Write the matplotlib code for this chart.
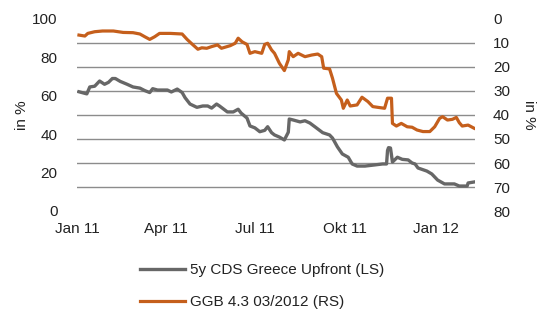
import numpy as np
import matplotlib
matplotlib.use("Agg")
import matplotlib.pyplot as plt

plt.rcParams['font.family'] = ['Liberation Sans', 'DejaVu Sans']

# Days since 2011-01-01 and values for each series
cds_days = [2, 10, 13, 18, 23, 28, 32, 36, 39, 44, 51, 57, 64, 69, 74, 77, 82, 92, 96,
            102, 107, 110, 115, 122, 128, 133, 137, 142, 145, 153, 159, 164, 167, 173,
            176, 181, 186, 191, 194, 198, 201, 206, 211, 215, 216, 220, 227, 232, 237,
            242, 250, 257, 260, 265, 270, 276, 280, 285, 293, 303, 311, 315, 316, 317,
            319, 321, 326, 331, 337, 341, 344, 347, 356, 361, 367, 374, 384, 389, 397,
            398, 404]
cds_values = [62.1, 61, 64.6, 65, 67.7, 66, 67, 69, 69, 67.5, 66, 64.6, 64, 62.7, 61.7,
              63.7, 63, 63, 62, 63.5, 61.7, 59, 55.7, 54, 54.7, 54.7, 53.6, 55.7, 54.7,
              51.6, 51.6, 53, 51, 48.4, 44.3, 43.3, 41.3, 42, 43.9, 40.8, 39.6, 38.5, 37,
              41, 47.9, 47.4, 46.4, 47, 45.8, 43.9, 40.8, 39.6, 38, 33.4, 29.7, 28, 24.5,
              23.4, 23.4, 24, 24.5, 24.5, 31.5, 33, 32.8, 25.5, 28, 26.9, 26.6, 25, 24.5,
              22.4, 20.8, 19.3, 16.1, 14.1, 14.1, 13, 13, 14.6, 15.1]

ggb_days = [2, 8, 11, 18, 26, 37, 47, 57, 64, 69, 74, 79, 84, 95, 107, 112, 117, 123,
            127, 132, 137, 143, 147, 156, 161, 164, 168, 173, 176, 181, 188, 191, 194,
            198, 201, 206, 211, 215, 216, 220, 225, 232, 239, 245, 249, 251, 257, 260,
            264, 269, 271, 275, 278, 285, 290, 296, 301, 306, 313, 316, 320, 321, 325,
            330, 336, 341, 346, 352, 359, 364, 369, 372, 377, 382, 386, 389, 392, 398,
            404]
ggb_values = [6.7, 7.1, 6.0, 5.3, 5.0, 5.0, 5.6, 5.7, 6.25, 7.4, 8.5, 7.4, 6.0, 6.0,
              6.25, 8.5, 10.4, 12.6, 12.0, 12.2, 11.5, 10.8, 12.2, 11.1, 10.1, 8.0, 9.5,
              10.6, 14.3, 13.6, 14.3, 10.6, 10.1, 12.9, 14.3, 18.5, 21.5, 17, 13.6, 15.7,
              14.3, 15.7, 15.0, 14.6, 15.7, 20.5, 20.8, 24.7, 31.0, 33.75, 37.2, 33.75,
              36.25, 35.8, 32.6, 34.4, 36.5, 36.8, 37.2, 33.0, 33.0, 43.5, 44.6, 43.5,
              44.9, 45.1, 46.25, 46.9, 46.9, 44.9, 41.4, 40.7, 42.1, 41.8, 41.0, 43.2,
              44.6, 44.2, 45.5]

tick_dates = ["2011-01-01", "2011-04-01", "2011-07-01", "2011-10-01", "2012-01-01"]
tick_labels = ["Jan 11", "Apr 11", "Jul 11", "Okt 11", "Jan 12"]
left_ticks = [0, 20, 40, 60, 80, 100]
right_ticks = [0, 10, 20, 30, 40, 50, 60, 70, 80]

series_names = ["5y CDS Greece Upfront (LS)", "GGB 4.3 03/2012 (RS)"]

base = np.datetime64("2011-01-01")
cds_x = base + np.array(cds_days).astype("timedelta64[D]")
ggb_x = base + np.array(ggb_days).astype("timedelta64[D]")

GRAY = "#676767"
ORANGE = "#C55F1C"
TEXT = "#222222"
FS = 11

fig = plt.figure(figsize=(5.5, 3.27), dpi=100)
W, H = 550, 327
ax1 = fig.add_axes([77 / W, 1 - 211 / H, (475 - 77) / W, (211 - 19) / H])
ax2 = ax1.twinx()

ax1.plot(cds_x, cds_values, color=GRAY, lw=2.4, solid_joinstyle="round",
         label=series_names[0])
ax2.plot(ggb_x, ggb_values, color=ORANGE, lw=2.3, solid_joinstyle="round",
         label=series_names[1])

ax1.set_xlim(base, base + np.timedelta64(405, "D"))
ax1.set_ylim(0, 100)
ax2.set_ylim(80, 0)

ax1.set_yticks(left_ticks)
ax2.set_yticks(right_ticks)
# gridlines follow the right-hand scale
ax1.set_yticks(np.linspace(0, 100, len(right_ticks)), minor=True)
ax1.grid(which="minor", axis="y", color="#8c8c8c", lw=1.0)
ax1.set_axisbelow(True)

ax1.set_xticks([np.datetime64(d) for d in tick_dates])
ax1.set_xticklabels(tick_labels)

for ax in (ax1, ax2):
    for s in ax.spines.values():
        s.set_visible(False)
    ax.tick_params(which="both", length=0, labelsize=FS, colors=TEXT)
ax1.tick_params(axis="y", pad=14)
ax2.tick_params(axis="y", pad=13)
ax1.tick_params(axis="x", pad=8)

ax1.set_ylabel("in %", fontsize=FS, color=TEXT, labelpad=2)
ax2.set_ylabel("in %", fontsize=FS, color=TEXT, rotation=270, labelpad=19)

h1, l1 = ax1.get_legend_handles_labels()
h2, l2 = ax2.get_legend_handles_labels()
fig.legend(h1 + h2, l1 + l2, loc="upper left", bbox_to_anchor=(140 / W, 1 - 263 / H),
           frameon=False, fontsize=FS, handlelength=2.95, handletextpad=0.35,
           labelspacing=1.2, borderpad=0, borderaxespad=0, labelcolor=TEXT)

fig.savefig("out.png", dpi=100, facecolor="white")
